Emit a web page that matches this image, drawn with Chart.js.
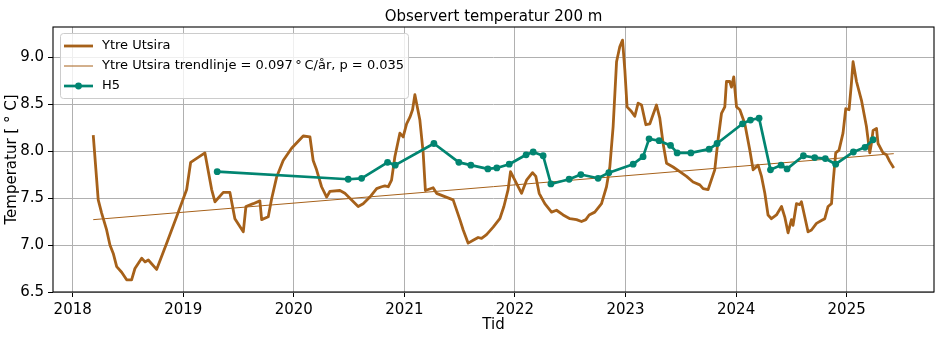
<!DOCTYPE html>
<html>
<head>
<meta charset="utf-8">
<script src="https://cdn.jsdelivr.net/npm/chart.js@4.4.1/dist/chart.umd.min.js"></script>
<style>
  html, body { margin: 0; padding: 0; background: #ffffff; }
  canvas { display: block; }
</style>
</head>
<body>
<canvas id="chart" width="944" height="338"></canvas>
<script>
// Ytre Utsira, 200 m: decimal year and temperature (°C)
const ytreYears = [
  2018.186, 2018.231, 2018.262, 2018.307, 2018.337, 2018.367, 2018.398, 2018.443, 2018.488, 2018.533,
  2018.563, 2018.624, 2018.654, 2018.684, 2018.759, 2018.850, 2018.940, 2019.031, 2019.067, 2019.196,
  2019.257, 2019.287, 2019.362, 2019.422, 2019.467, 2019.543, 2019.567, 2019.633, 2019.693, 2019.709,
  2019.769, 2019.799, 2019.844, 2019.904, 2019.980, 2020.085, 2020.146, 2020.175, 2020.206, 2020.251,
  2020.297, 2020.326, 2020.417, 2020.462, 2020.523, 2020.582, 2020.627, 2020.688, 2020.749, 2020.794,
  2020.824, 2020.854, 2020.884, 2020.914, 2020.959, 2020.989, 2021.020, 2021.050, 2021.074, 2021.095,
  2021.140, 2021.170, 2021.190, 2021.260, 2021.291, 2021.441, 2021.502, 2021.532, 2021.577, 2021.622,
  2021.667, 2021.698, 2021.743, 2021.803, 2021.863, 2021.900, 2021.938, 2021.960, 2022.008, 2022.060,
  2022.105, 2022.159, 2022.189, 2022.219, 2022.270, 2022.331, 2022.376, 2022.436, 2022.497, 2022.557,
  2022.602, 2022.641, 2022.671, 2022.722, 2022.783, 2022.828, 2022.858, 2022.888, 2022.919, 2022.948,
  2022.973, 2022.994, 2023.014, 2023.054, 2023.084, 2023.114, 2023.145, 2023.184, 2023.220, 2023.280,
  2023.310, 2023.340, 2023.371, 2023.430, 2023.491, 2023.552, 2023.611, 2023.672, 2023.702, 2023.747,
  2023.807, 2023.837, 2023.868, 2023.898, 2023.913, 2023.943, 2023.958, 2023.979, 2024.004, 2024.034,
  2024.079, 2024.124, 2024.154, 2024.199, 2024.230, 2024.260, 2024.289, 2024.320, 2024.365, 2024.411,
  2024.440, 2024.470, 2024.501, 2024.515, 2024.546, 2024.576, 2024.591, 2024.621, 2024.651, 2024.682,
  2024.727, 2024.772, 2024.802, 2024.832, 2024.863, 2024.877, 2024.901, 2024.931, 2024.967, 2024.992,
  2025.022, 2025.043, 2025.058, 2025.089, 2025.134, 2025.179, 2025.209, 2025.224, 2025.239, 2025.270,
  2025.284, 2025.329, 2025.360, 2025.389, 2025.426
];
const ytreTemps = [
  8.17, 7.48, 7.34, 7.16, 7.00, 6.91, 6.77, 6.71, 6.63, 6.63,
  6.75, 6.86, 6.82, 6.84, 6.74, 7.02, 7.30, 7.59, 7.88, 7.98,
  7.59, 7.46, 7.56, 7.56, 7.28, 7.14, 7.41, 7.44, 7.47, 7.27,
  7.30, 7.49, 7.72, 7.90, 8.03, 8.16, 8.15, 7.90, 7.80, 7.62,
  7.51, 7.57, 7.58, 7.55, 7.48, 7.41, 7.44, 7.51, 7.60, 7.62,
  7.63, 7.62, 7.69, 7.94, 8.19, 8.15, 8.29, 8.36, 8.44, 8.60,
  8.33, 7.98, 7.58, 7.61, 7.55, 7.48, 7.27, 7.16, 7.02, 7.05,
  7.08, 7.07, 7.11, 7.19, 7.28, 7.41, 7.59, 7.78, 7.67, 7.55,
  7.69, 7.77, 7.73, 7.55, 7.44, 7.35, 7.37, 7.32, 7.28, 7.27,
  7.25, 7.27, 7.32, 7.35, 7.44, 7.62, 7.83, 8.26, 8.95, 9.11,
  9.18, 8.86, 8.47, 8.42, 8.37, 8.51, 8.49, 8.28, 8.29, 8.49,
  8.35, 8.08, 7.87, 7.83, 7.78, 7.73, 7.67, 7.64, 7.60, 7.59,
  7.80, 8.12, 8.40, 8.47, 8.74, 8.74, 8.68, 8.79, 8.47, 8.44,
  8.29, 8.01, 7.80, 7.85, 7.73, 7.55, 7.32, 7.28, 7.32, 7.41,
  7.30, 7.13, 7.27, 7.21, 7.44, 7.43, 7.46, 7.30, 7.14, 7.16,
  7.23, 7.26, 7.28, 7.41, 7.44, 7.66, 7.98, 8.01, 8.19, 8.45,
  8.44, 8.72, 8.95, 8.74, 8.54, 8.26, 7.98, 8.08, 8.22, 8.24,
  8.08, 7.98, 7.96, 7.89, 7.82
];

// H5 station, 200 m
const h5Years = [
  2019.307, 2020.492, 2020.613, 2020.848, 2020.917, 2021.267, 2021.493, 2021.601, 2021.755, 2021.836,
  2021.948, 2022.101, 2022.165, 2022.255, 2022.325, 2022.490, 2022.596, 2022.752, 2022.849, 2023.069,
  2023.159, 2023.213, 2023.304, 2023.407, 2023.467, 2023.591, 2023.756, 2023.828, 2024.058, 2024.130,
  2024.208, 2024.311, 2024.407, 2024.461, 2024.609, 2024.711, 2024.807, 2024.901, 2025.061, 2025.166,
  2025.239
];
const h5Temps = [
  7.78, 7.70, 7.71, 7.88, 7.85, 8.08, 7.88, 7.85, 7.81, 7.82,
  7.86, 7.96, 7.99, 7.95, 7.65, 7.70, 7.75, 7.71, 7.77, 7.86,
  7.94, 8.13, 8.11, 8.06, 7.98, 7.98, 8.02, 8.08, 8.29, 8.33,
  8.35, 7.80, 7.85, 7.81, 7.95, 7.93, 7.92, 7.86, 7.99, 8.04,
  8.12
];

// Linear trend for Ytre Utsira: slope in °C per year and p-value
const trendSlope = 0.097;
const trendP = 0.035;
const trendYears = [2018.186, 2025.426];
const trendStartTemp = 7.27;

// Axis ticks
const xTicks = [2018, 2019, 2020, 2021, 2022, 2023, 2024, 2025];
const yTicks = [6.5, 7.0, 7.5, 8.0, 8.5, 9.0];

const FONT = '"DejaVu Sans", "Liberation Sans", sans-serif';
const BROWN = '#a6611a';
const TEAL = '#018571';

const pairs = (xs, ys) => xs.map((x, i) => ({ x: x, y: ys[i] }));
const trendTemps = trendYears.map(t => trendStartTemp + trendSlope * (t - trendYears[0]));

// Frame around the plotting area (all four sides)
const frame = {
  id: 'frame',
  afterDatasetsDraw(chart) {
    const { ctx, chartArea: a } = chart;
    ctx.save();
    ctx.strokeStyle = '#000000';
    ctx.lineWidth = 1.1;
    ctx.strokeRect(a.left, a.top, a.right - a.left, a.bottom - a.top);
    ctx.restore();
  }
};

// Legend box drawn inside the upper-left corner of the plot
const insideLegend = {
  id: 'insideLegend',
  afterDraw(chart) {
    const { ctx, chartArea: a } = chart;
    const x0 = a.left + 7, y0 = a.top + 6, w = 348, h = 65;
    ctx.save();
    ctx.beginPath();
    ctx.roundRect(x0 + 0.5, y0 + 0.5, w, h, 3);
    ctx.fillStyle = 'rgba(255,255,255,0.8)';
    ctx.fill();
    ctx.strokeStyle = '#cccccc';
    ctx.lineWidth = 1;
    ctx.stroke();
    chart.data.datasets.forEach((ds, i) => {
      const y = y0 + 13 + i * 20;
      ctx.strokeStyle = ds.borderColor;
      ctx.lineWidth = ds.borderWidth;
      ctx.beginPath();
      ctx.moveTo(x0 + 4, y);
      ctx.lineTo(x0 + 33, y);
      ctx.stroke();
      if (ds.pointRadius > 0) {
        ctx.fillStyle = ds.pointBackgroundColor;
        ctx.beginPath();
        ctx.arc(x0 + 18.5, y, ds.pointRadius, 0, Math.PI * 2);
        ctx.fill();
      }
      ctx.fillStyle = '#000000';
      ctx.font = '13px ' + FONT;
      ctx.textBaseline = 'middle';
      ctx.textAlign = 'left';
      ctx.fillText(ds.label, x0 + 42, y);
    });
    ctx.restore();
  }
};

new Chart(document.getElementById('chart'), {
  type: 'line',
  data: {
    datasets: [
      {
        label: 'Ytre Utsira',
        data: pairs(ytreYears, ytreTemps),
        borderColor: BROWN,
        borderWidth: 2.8,
        borderJoinStyle: 'round',
        pointRadius: 0,
        tension: 0,
        order: 2
      },
      {
        label: 'Ytre Utsira trendlinje = ' + trendSlope.toFixed(3) + '\u2009°\u2009C/år, p = ' + trendP.toFixed(3),
        data: pairs(trendYears, trendTemps),
        borderColor: BROWN,
        borderWidth: 1,
        pointRadius: 0,
        tension: 0,
        order: 1
      },
      {
        label: 'H5',
        data: pairs(h5Years, h5Temps),
        borderColor: TEAL,
        borderWidth: 2.7,
        borderJoinStyle: 'round',
        pointRadius: 3.4,
        pointBackgroundColor: TEAL,
        pointBorderWidth: 0,
        pointHoverRadius: 3.4,
        tension: 0,
        order: 0
      }
    ]
  },
  options: {
    responsive: false,
    animation: false,
    devicePixelRatio: 1,
    layout: { padding: { left: 0, right: 10, top: 0, bottom: 0 } },
    plugins: {
      legend: { display: false },
      tooltip: { enabled: false },
      title: {
        display: true,
        fullSize: false,
        text: 'Observert temperatur 200 m',
        color: '#000000',
        font: { family: FONT, size: 15, weight: 'normal' },
        padding: { top: 8, bottom: 1 }
      }
    },
    scales: {
      x: {
        type: 'linear',
        min: 2017.822,
        max: 2025.79,
        afterBuildTicks: s => { s.ticks = xTicks.map(v => ({ value: v })); },
        afterFit: s => { s.height = 46; },
        border: { display: false },
        grid: { color: '#b0b0b0', lineWidth: 1, drawTicks: true, tickLength: 5, tickColor: '#000000', tickWidth: 1 },
        ticks: {
          autoSkip: false, maxRotation: 0, padding: 4, color: '#000000',
          font: { family: FONT, size: 15 },
          callback: v => String(v)
        },
        title: {
          display: true, text: 'Tid', color: '#000000',
          font: { family: FONT, size: 15 },
          padding: { top: 0, bottom: 4 }
        }
      },
      y: {
        type: 'linear',
        min: 6.5,
        max: 9.32,
        afterBuildTicks: s => { s.ticks = yTicks.map(v => ({ value: v })); },
        afterFit: s => { s.width = 53; },
        border: { display: false },
        grid: { color: '#b0b0b0', lineWidth: 1, drawTicks: true, tickLength: 5, tickColor: '#000000', tickWidth: 1 },
        ticks: {
          padding: 4, color: '#000000',
          font: { family: FONT, size: 15 },
          callback: v => Number(v).toFixed(1)
        },
        title: {
          display: true, text: 'Temperatur [ ° C]', color: '#000000',
          font: { family: FONT, size: 15 },
          padding: { top: 3, bottom: 0 }
        }
      }
    }
  },
  plugins: [frame, insideLegend]
});
</script>
</body>
</html>
